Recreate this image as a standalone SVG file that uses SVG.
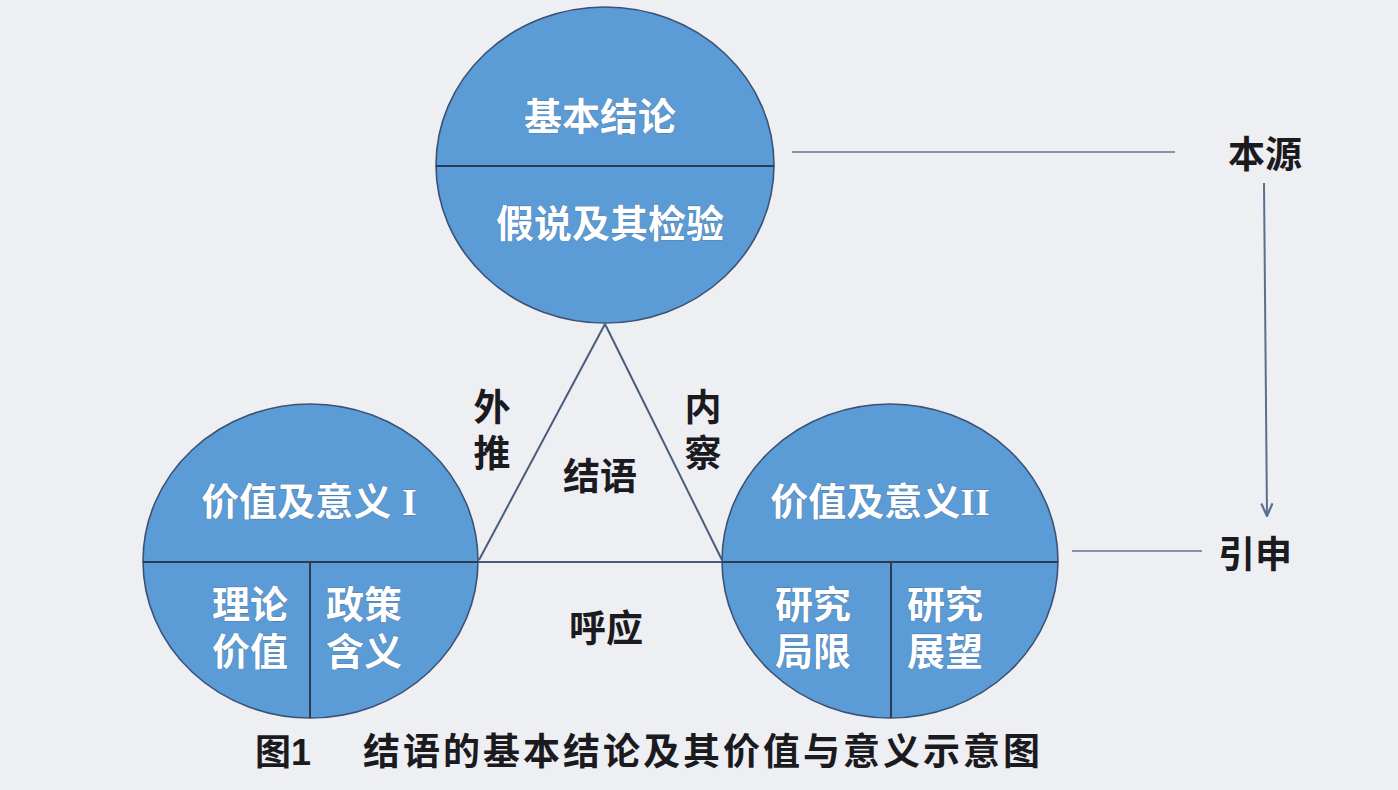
<svg xmlns="http://www.w3.org/2000/svg" width="1398" height="790" viewBox="0 0 1398 790">
<style>
.circ{fill:#5b9bd6;stroke:#3b5275;stroke-width:1.6}
.div{stroke:#2c3b55;stroke-width:2;fill:none}
.wt{font-family:"Liberation Sans","Noto Sans CJK SC",sans-serif;font-weight:bold;fill:#ffffff;stroke:#4a6a90;stroke-width:0.6;paint-order:stroke;font-size:38px;text-anchor:middle;dominant-baseline:central}
.bt{font-family:"Liberation Sans","Noto Sans CJK SC",sans-serif;font-weight:bold;fill:#1b1b1f;font-size:37px;text-anchor:middle;dominant-baseline:central}
.rn{font-family:"Liberation Serif",serif;font-weight:bold}
.ln{stroke:#8592a8;stroke-width:2.2;fill:none}
.tri{stroke:#4a5d7c;stroke-width:2;fill:none}
</style>
<defs>
<marker id="ah" viewBox="0 0 10 10" refX="9" refY="5" markerWidth="7" markerHeight="7" orient="auto">
<path d="M0,1 L9,5 L0,9" fill="none" stroke="#5a6f8e" stroke-width="1.6"/>
</marker>
</defs>
<rect width="1398" height="790" fill="#eeeff3"/>
<g id="connectors">
<line class="tri" x1="605" y1="324" x2="479" y2="560"/>
<line class="tri" x1="605" y1="324" x2="722" y2="560"/>
<line class="tri" x1="478" y1="562" x2="722" y2="562"/>
<line class="ln" x1="792" y1="152" x2="1175" y2="152"/>
<line class="ln" x1="1072" y1="551" x2="1202" y2="551"/>
<line x1="1264" y1="183" x2="1267" y2="516" stroke="#5a6f8e" stroke-width="2" marker-end="url(#ah)"/>
</g>
<g id="top-circle">
<ellipse class="circ" cx="605" cy="165" rx="169" ry="158"/>
<line class="div" x1="436" y1="166" x2="774" y2="166"/>
<text class="wt" x="600" y="117">基本结论</text>
<text class="wt" x="610" y="224">假说及其检验</text>
</g>
<g id="left-circle">
<ellipse class="circ" cx="310.5" cy="561" rx="167.5" ry="157"/>
<line class="div" x1="143" y1="562" x2="478" y2="562"/>
<line class="div" x1="310" y1="562" x2="310" y2="718"/>
<text class="wt" x="309" y="502">价值及意义 <tspan class="rn">I</tspan></text>
<text class="wt"><tspan x="250" y="605">理论</tspan><tspan x="250" y="652">价值</tspan></text>
<text class="wt"><tspan x="364" y="605">政策</tspan><tspan x="364" y="652">含义</tspan></text>
</g>
<g id="right-circle">
<ellipse class="circ" cx="890" cy="561" rx="168" ry="157"/>
<line class="div" x1="722" y1="562" x2="1058" y2="562"/>
<line class="div" x1="891" y1="562" x2="891" y2="718"/>
<text class="wt" x="880" y="502">价值及意义<tspan class="rn">II</tspan></text>
<text class="wt"><tspan x="813" y="605">研究</tspan><tspan x="813" y="652">局限</tspan></text>
<text class="wt"><tspan x="945" y="605">研究</tspan><tspan x="945" y="652">展望</tspan></text>
</g>
<g id="center-labels">
<text class="bt" x="600" y="477">结语</text>
<text class="bt"><tspan x="492" y="408">外</tspan><tspan x="492" y="454">推</tspan></text>
<text class="bt"><tspan x="703" y="408">内</tspan><tspan x="703" y="454">察</tspan></text>
<text class="bt" x="606" y="629">呼应</text>
</g>
<g id="side-labels">
<text class="bt" x="1265" y="155">本源</text>
<text class="bt" x="1255" y="555">引申</text>
</g>
<g id="caption">
<text class="bt" x="283" y="752" style="font-size:36px">图1</text>
<text class="bt" x="703" y="752" style="font-size:37px;letter-spacing:3px">结语的基本结论及其价值与意义示意图</text>
</g>
</svg>
